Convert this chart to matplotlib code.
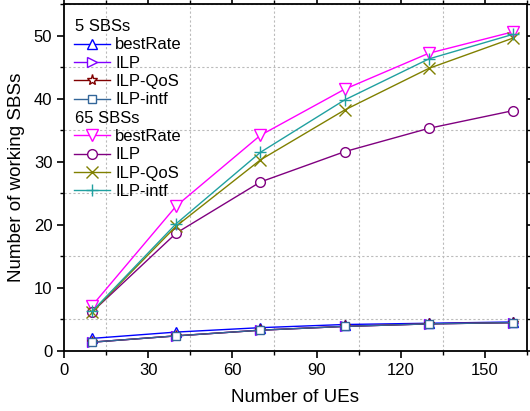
import matplotlib
matplotlib.use("Agg")
import matplotlib.pyplot as plt
from matplotlib.lines import Line2D
from matplotlib.ticker import MultipleLocator

plt.rcParams["font.family"] = ["Liberation Sans", "DejaVu Sans"]

ues = [10, 40, 70, 100, 130, 160]

# 5 SBSs
best5 = [2.0, 3.0, 3.7, 4.2, 4.4, 4.6]
ilp5 = [1.4, 2.4, 3.3, 3.9, 4.3, 4.5]
qos5 = [1.4, 2.4, 3.3, 3.9, 4.3, 4.5]
intf5 = [1.4, 2.4, 3.3, 3.9, 4.3, 4.5]

# 65 SBSs
best65 = [7.2, 23.0, 34.2, 41.5, 47.2, 50.6]
ilp65 = [6.2, 18.7, 26.8, 31.6, 35.3, 38.1]
qos65 = [6.2, 19.8, 30.3, 38.2, 44.8, 49.6]
intf65 = [6.3, 20.2, 31.5, 39.8, 46.3, 50.2]

labels = ["bestRate", "ILP", "ILP-QoS", "ILP-intf"]

fig = plt.figure(figsize=(5.3, 4.11), dpi=100)
ax = fig.add_axes([0.121, 0.146, 0.873, 0.844])

styles5 = [
    (best5, "#0000ff", "^", 7),
    (ilp5, "#8000ff", ">", 7),
    (qos5, "#800000", "*", 8),
    (intf5, "#336699", "s", 6),
]
styles65 = [
    (best65, "#ff00ff", "v", 8),
    (ilp65, "#800080", "o", 7),
    (qos65, "#808000", "x", 8),
    (intf65, "#20a0a0", "+", 9),
]

h5, h65 = [], []
for ys, c, m, ms in styles5:
    (ln,) = ax.plot(ues, ys, color=c, marker=m, markersize=ms, markerfacecolor="white",
                    markeredgecolor=c, linewidth=1.0, markeredgewidth=1.0, zorder=3)
    h5.append(ln)
for ys, c, m, ms in styles65:
    (ln,) = ax.plot(ues, ys, color=c, marker=m, markersize=ms, markerfacecolor="white",
                    markeredgecolor=c, linewidth=1.0, markeredgewidth=1.0, zorder=3)
    h65.append(ln)

# legend with two group headers
blank = Line2D([], [], linestyle="none", marker=None)
handles = [blank] + h5 + [blank] + h65
leg_labels = ["5 SBSs"] + labels + ["65 SBSs"] + labels
leg = ax.legend(handles, leg_labels, loc="upper left", frameon=False, fontsize=12,
                handlelength=2.2, handletextpad=0.3, labelspacing=0.2,
                borderaxespad=0.5, bbox_to_anchor=(-0.012, 1.0))
for txt in leg.get_texts():
    if "SBSs" in txt.get_text():
        txt.set_position((-40, 0))

ax.set_xlim(0, 165)
ax.set_ylim(0, 55)
ax.xaxis.set_major_locator(MultipleLocator(30))
ax.xaxis.set_minor_locator(MultipleLocator(15))
ax.yaxis.set_major_locator(MultipleLocator(10))
ax.yaxis.set_minor_locator(MultipleLocator(5))
ax.grid(True, which="minor", linestyle=(0, (2, 2)), color="#bbbbbb", linewidth=0.8)
ax.tick_params(which="both", direction="out", top=True, right=True, labelsize=12)
ax.tick_params(which="major", length=5, width=1.2)
ax.tick_params(which="minor", length=3, width=1.0)
for s in ax.spines.values():
    s.set_linewidth(1.3)

ax.set_xlabel("Number of UEs", fontsize=13.5, labelpad=8)
ax.set_ylabel("Number of working SBSs", fontsize=13.5, labelpad=6)

fig.savefig("out.png", dpi=100)
